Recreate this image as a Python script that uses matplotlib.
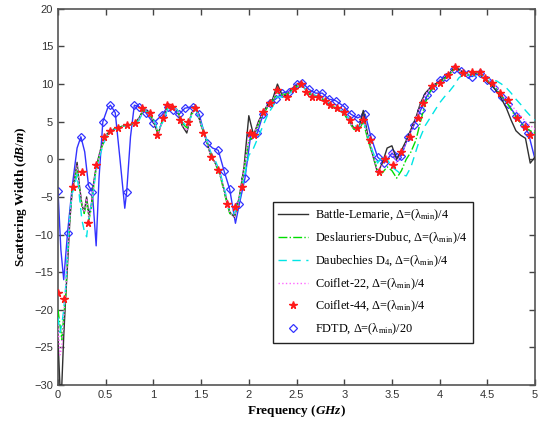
import numpy as np
import matplotlib
matplotlib.use("Agg")
from matplotlib import pyplot as plt
from matplotlib.lines import Line2D

plt.rcParams['mathtext.fontset'] = 'custom'
plt.rcParams['mathtext.rm'] = 'Liberation Serif'
plt.rcParams['mathtext.it'] = 'Liberation Serif:italic:bold'

# frequency grid for the wavelet curves (GHz)
freq = np.array([0, 0.02, 0.04, 0.06, 0.08, 0.1, 0.125, 0.15, 0.175, 0.2, 0.225, 0.25, 0.275, 0.3,
                 0.325, 0.35, 0.375, 0.4] + list(np.round(np.arange(0.45, 5.001, 0.05), 2)))

battle = [-24, -30, -30, -23.5, -18.5, -14, -8, -4, -2.5, -0.4, -3.5, -6, -7, -5, -7.5, -6, -3, -1,
          1.5, 3.2, 3.8, 4.1, 4.3, 4.5, 4.6, 4.8, 5.5, 6.8, 6.3, 5.0, 3.3, 5.5, 7.0, 7.2, 6.5, 4.5,
          3.5, 6.2, 6.8, 4.5, 2.8, 0.5, -0.5, -2.0, -4.5, -7.0, -7.7, -5.0, -1.0, 5.8, 3.2, 5.0,
          6.3, 7.3, 8.0, 10.0, 8.5, 8.5, 9.3, 9.8, 10.0, 9.2, 8.5, 8.3, 8.2, 7.8, 7.2, 6.8, 6.5,
          6.2, 5.2, 4.2, 4.0, 6.5, 3.0, 0.5, -1.8, -0.5, 1.5, 1.8, 0.0, 1.2, 2.5, 4.0, 5.5, 7.5,
          8.8, 9.5, 10.0, 10.3, 10.8, 11.3, 12.2, 12.0, 11.5, 11.2, 11.4, 11.5, 11.0, 10.3, 9.8,
          9.0, 8.0, 6.8, 5.2, 3.8, 3.2, 2.8, -0.5, 0.3]

deslauriers = [-20, -22, -24, -21, -18, -13, -7.5, -4, -2.8, -1.0, -3.8, -6.2, -7.2, -5.5, -8.0,
               -6.5, -3.5, -1.2, 1.3, 3.0, 3.7, 4.1, 4.3, 4.5, 4.6, 4.8, 5.3, 6.7, 6.3, 5.2, 3.5,
               5.3, 6.9, 7.2, 6.6, 4.8, 4.2, 6.0, 6.7, 4.6, 2.8, 0.6, -0.6, -2.2, -4.8, -7.2, -7.5,
               -5.2, -1.5, 2.5, 3.0, 4.6, 6.0, 7.0, 7.8, 8.8, 8.6, 8.7, 9.2, 9.7, 9.9, 9.2, 8.6,
               8.4, 8.2, 7.8, 7.3, 6.9, 6.5, 6.0, 5.0, 4.0, 3.8, 5.0, 2.5, 0.5, -1.5, -1.8, -1.0,
               -1.5, -2.5, -1.5, 0.0, 1.0, 2.5, 5.0, 7.5, 9.0, 9.8, 10.2, 10.7, 11.2, 12.0, 11.9,
               11.5, 11.2, 11.4, 11.5, 11.1, 10.5, 10.0, 9.3, 8.5, 7.6, 6.6, 5.6, 4.8, 4.2, 3.8, 3.5]

daubechies = [-21, -23, -22, -20, -17, -12, -7, -4.5, -3.5, -2.0, -5, -8, -9.5, -10.3, -7.5, -6,
              -3.8, -1.5, 1.0, 2.8, 3.5, 4.0, 4.2, 4.4, 4.5, 4.7, 5.2, 6.5, 6.2, 5.3, 3.8, 5.0,
              6.7, 7.0, 6.6, 5.0, 4.4, 5.8, 6.5, 4.8, 3.0, 1.0, -0.2, -1.8, -4.2, -6.8, -7.2,
              -5.5, -2.5, 0.5, 1.5, 3.0, 4.5, 6.0, 7.0, 8.3, 8.3, 8.5, 9.0, 9.5, 9.8, 9.3, 8.7,
              8.5, 8.3, 7.9, 7.4, 7.0, 6.6, 6.2, 5.4, 4.6, 4.2, 5.2, 3.0, 1.0, -0.5, 0.5, 0.0,
              -1.0, -1.5, -2.0, -2.2, -1.0, 1.0, 3.0, 4.5, 5.5, 6.5, 7.5, 8.3, 9.0, 9.8, 10.8,
              11.3, 11.2, 11.2, 11.0, 11.0, 10.8, 10.6, 10.4, 10.0, 9.5, 8.8, 8.0, 7.3, 6.5, 5.8,
              5.2]

coiflet22 = [-22, -26, -25, -21, -17.5, -13, -7.8, -4, -2.6, -0.8, -3.6, -6, -7, -5.2, -7.8,
             -6.2, -3.2, -1.1, 1.4, 3.1, 3.8, 4.1, 4.3, 4.5, 4.6, 4.8, 5.4, 6.8, 6.3, 5.1, 3.4,
             5.4, 7.0, 7.2, 6.5, 4.6, 3.8, 6.1, 6.8, 4.6, 2.8, 0.5, -0.5, -2.1, -4.6, -7.1, -7.6,
             -5.1, -1.2, 3.0, 3.2, 4.8, 6.2, 7.2, 7.9, 9.0, 8.5, 8.6, 9.3, 9.8, 10.0, 9.2, 8.5,
             8.3, 8.2, 7.8, 7.2, 6.8, 6.5, 6.1, 5.1, 4.1, 3.9, 5.5, 2.8, 0.5, -1.6, -0.8, 0.5,
             1.0, -0.5, 0.8, 2.2, 3.8, 5.3, 7.2, 8.6, 9.4, 9.9, 10.2, 10.7, 11.2, 12.1, 11.9, 11.5,
             11.2, 11.4, 11.5, 11.1, 10.6, 10.2, 9.6, 8.8, 8.0, 7.2, 6.5, 5.8, 5.0, 4.5, 4.0]

coif44_freq = [0.0, 0.06, 0.16, 0.25, 0.31, 0.4, 0.48, 0.55, 0.63, 0.72, 0.81, 0.88, 0.96, 1.04,
               1.1, 1.14, 1.2, 1.28, 1.36, 1.44, 1.52, 1.6, 1.68, 1.77, 1.86, 1.93, 2.01, 2.05,
               2.15, 2.22, 2.3, 2.4, 2.47, 2.55, 2.6, 2.66, 2.73, 2.8, 2.85, 2.92, 3.0, 3.06,
               3.13, 3.2, 3.27, 3.36, 3.43, 3.51, 3.6, 3.69, 3.77, 3.83, 3.92, 4.0, 4.09, 4.16,
               4.25, 4.34, 4.42, 4.48, 4.55, 4.63, 4.72, 4.81, 4.9, 4.95]
coif44_db = [-17.8, -18.6, -3.7, -1.7, -8.5, -0.8, 3.0, 3.8, 4.2, 4.6, 4.8, 6.8, 6.2, 3.2, 5.5,
             7.2, 7.0, 5.2, 5.0, 6.8, 3.5, 0.3, -1.4, -6.0, -6.3, -3.7, 3.5, 3.2, 6.3, 7.5, 9.2,
             8.3, 9.3, 10.0, 9.0, 8.3, 8.3, 7.8, 7.2, 6.8, 6.3, 5.2, 4.2, 5.2, 2.6, -1.7, 0.0,
             -0.7, 1.0, 3.0, 5.5, 7.5, 9.8, 10.2, 11.2, 12.3, 11.5, 11.6, 11.6, 10.8, 10.1, 8.8,
             7.9, 5.5, 4.3, 3.2]

fdtd_freq = [0.0, 0.03, 0.06, 0.1, 0.15, 0.2, 0.24, 0.28, 0.32, 0.36, 0.4, 0.43, 0.47, 0.52,
             0.55, 0.6, 0.65, 0.7, 0.72, 0.76, 0.8, 0.85, 0.92, 1.0, 1.09, 1.15, 1.21, 1.27, 1.33,
             1.42, 1.48, 1.56, 1.62, 1.68, 1.74, 1.8, 1.86, 1.9, 1.96, 2.02, 2.09, 2.15, 2.22,
             2.28, 2.35, 2.42, 2.5, 2.56, 2.63, 2.7, 2.77, 2.84, 2.91, 3.0, 3.07, 3.14, 3.22,
             3.28, 3.35, 3.42, 3.5, 3.55, 3.6, 3.67, 3.73, 3.8, 3.87, 3.93, 4.0, 4.07, 4.15, 4.22,
             4.3, 4.34, 4.42, 4.5, 4.57, 4.65, 4.72, 4.8, 4.88, 4.93, 5.0]
fdtd_db = [-4.2, -12, -16, -9.8, -3.5, 1.5, 3.0, 1.0, -3.5, -4.3, -11.5, -2.5, 5.0, 6.8, 7.2, 6.2,
           0.0, -6.5, -4.3, 3.0, 7.2, 7.0, 6.2, 4.8, 5.9, 7.0, 6.6, 6.0, 6.8, 7.0, 6.0, 2.2, 1.5,
           1.2, -1.5, -4.0, -8.5, -6.0, -2.5, 3.2, 3.5, 6.0, 7.5, 8.0, 8.8, 9.0, 10.0, 10.2, 9.3,
           8.8, 8.8, 8.0, 7.8, 7.0, 6.0, 5.5, 6.0, 3.0, 0.3, -0.5, 0.8, 0.3, 0.5, 3.0, 4.5, 6.5,
           8.5, 9.5, 10.5, 11.0, 12.0, 11.8, 11.3, 11.0, 11.5, 10.5, 9.5, 8.3, 7.3, 5.8, 4.5, 3.5,
           0.0]
fdtd_no_marker = [1, 2, 4, 5, 7, 10, 11, 13, 16, 17, 19, 32, 36, 82]

labels = [u'Battle-Lemarie, \u0394=(\u03bb$_{\\mathrm{min}}$)/4',
          u'Deslauriers-Dubuc, \u0394=(\u03bb$_{\\mathrm{min}}$)/4',
          u'Daubechies D$_{\\mathrm{4}}$, \u0394=(\u03bb$_{\\mathrm{min}}$)/4',
          u'Coiflet-22, \u0394=(\u03bb$_{\\mathrm{min}}$)/4',
          u'Coiflet-44, \u0394=(\u03bb$_{\\mathrm{min}}$)/4',
          u'FDTD, \u0394=(\u03bb$_{\\mathrm{min}}$)/20']

fig = plt.figure(figsize=(5.39, 4.25), dpi=100)
ax = fig.add_axes([0.1076, 0.0941, 0.885, 0.885])

fdtd_marks = [i for i in range(len(fdtd_freq)) if i not in fdtd_no_marker]
ax.plot(fdtd_freq, fdtd_db, color='#3333ff', lw=1.0, marker='D', ms=4.5, mfc='none',
        mec='#3333ff', mew=0.9, markevery=fdtd_marks, zorder=2)
ax.plot(freq, battle, color='#303030', lw=1.0, zorder=3)
ax.plot(freq, deslauriers, color='#00dd00', lw=1.0, ls='-.', zorder=3)
ax.plot(freq, daubechies, color='#00e5e5', lw=1.0, ls=(0, (6, 4)), zorder=3)
ax.plot(freq, coiflet22, color='#ff66ff', lw=1.0, ls=':', zorder=3)
ax.plot(coif44_freq, coif44_db, ls='none', marker='*', ms=5.5, color='#ff1a1a', zorder=4)

ax.set_xlim(0, 5)
ax.set_ylim(-30, 20)
ax.set_xticks(np.arange(0, 5.01, 0.5))
ax.set_xticklabels(['0', '0.5', '1', '1.5', '2', '2.5', '3', '3.5', '4', '4.5', '5'])
ax.set_yticks(np.arange(-30, 21, 5))
ax.tick_params(direction='in', top=True, right=True, length=4, width=1, colors='#444444',
               labelsize=8, labelcolor='#333333')
for lab in ax.get_xticklabels() + ax.get_yticklabels():
    lab.set_family('Liberation Sans')
for sp in ax.spines.values():
    sp.set_color('#555555')
    sp.set_linewidth(1.2)

ax.set_xlabel('Frequency ($GHz$)', family='Liberation Serif', weight='bold', fontsize=9.5,
              labelpad=2)
ax.set_ylabel('Scattering Width ($dB/m$)', family='Liberation Serif', weight='bold',
              fontsize=9.5, labelpad=4)

handles = [Line2D([], [], color='#303030', lw=1.0),
           Line2D([], [], color='#00dd00', lw=1.0, ls='-.'),
           Line2D([], [], color='#00e5e5', lw=1.0, ls=(0, (6, 4))),
           Line2D([], [], color='#ff66ff', lw=1.0, ls=':'),
           Line2D([], [], ls='none', marker='*', ms=5.5, color='#ff1a1a'),
           Line2D([], [], ls='none', marker='D', ms=4.5, mfc='none', mec='#3333ff', mew=0.9)]
leg = ax.legend(handles, labels, loc='center', bbox_to_anchor=(0.43, 0.125, 0.461, 0.348),
                prop={'family': 'Liberation Serif', 'size': 8.8}, fancybox=False,
                framealpha=1, edgecolor='#222222', labelspacing=0.6, handlelength=2.4,
                borderpad=0.45, handletextpad=0.6)
leg.get_frame().set_linewidth(1.0)

fig.savefig('out.png', dpi=100)
